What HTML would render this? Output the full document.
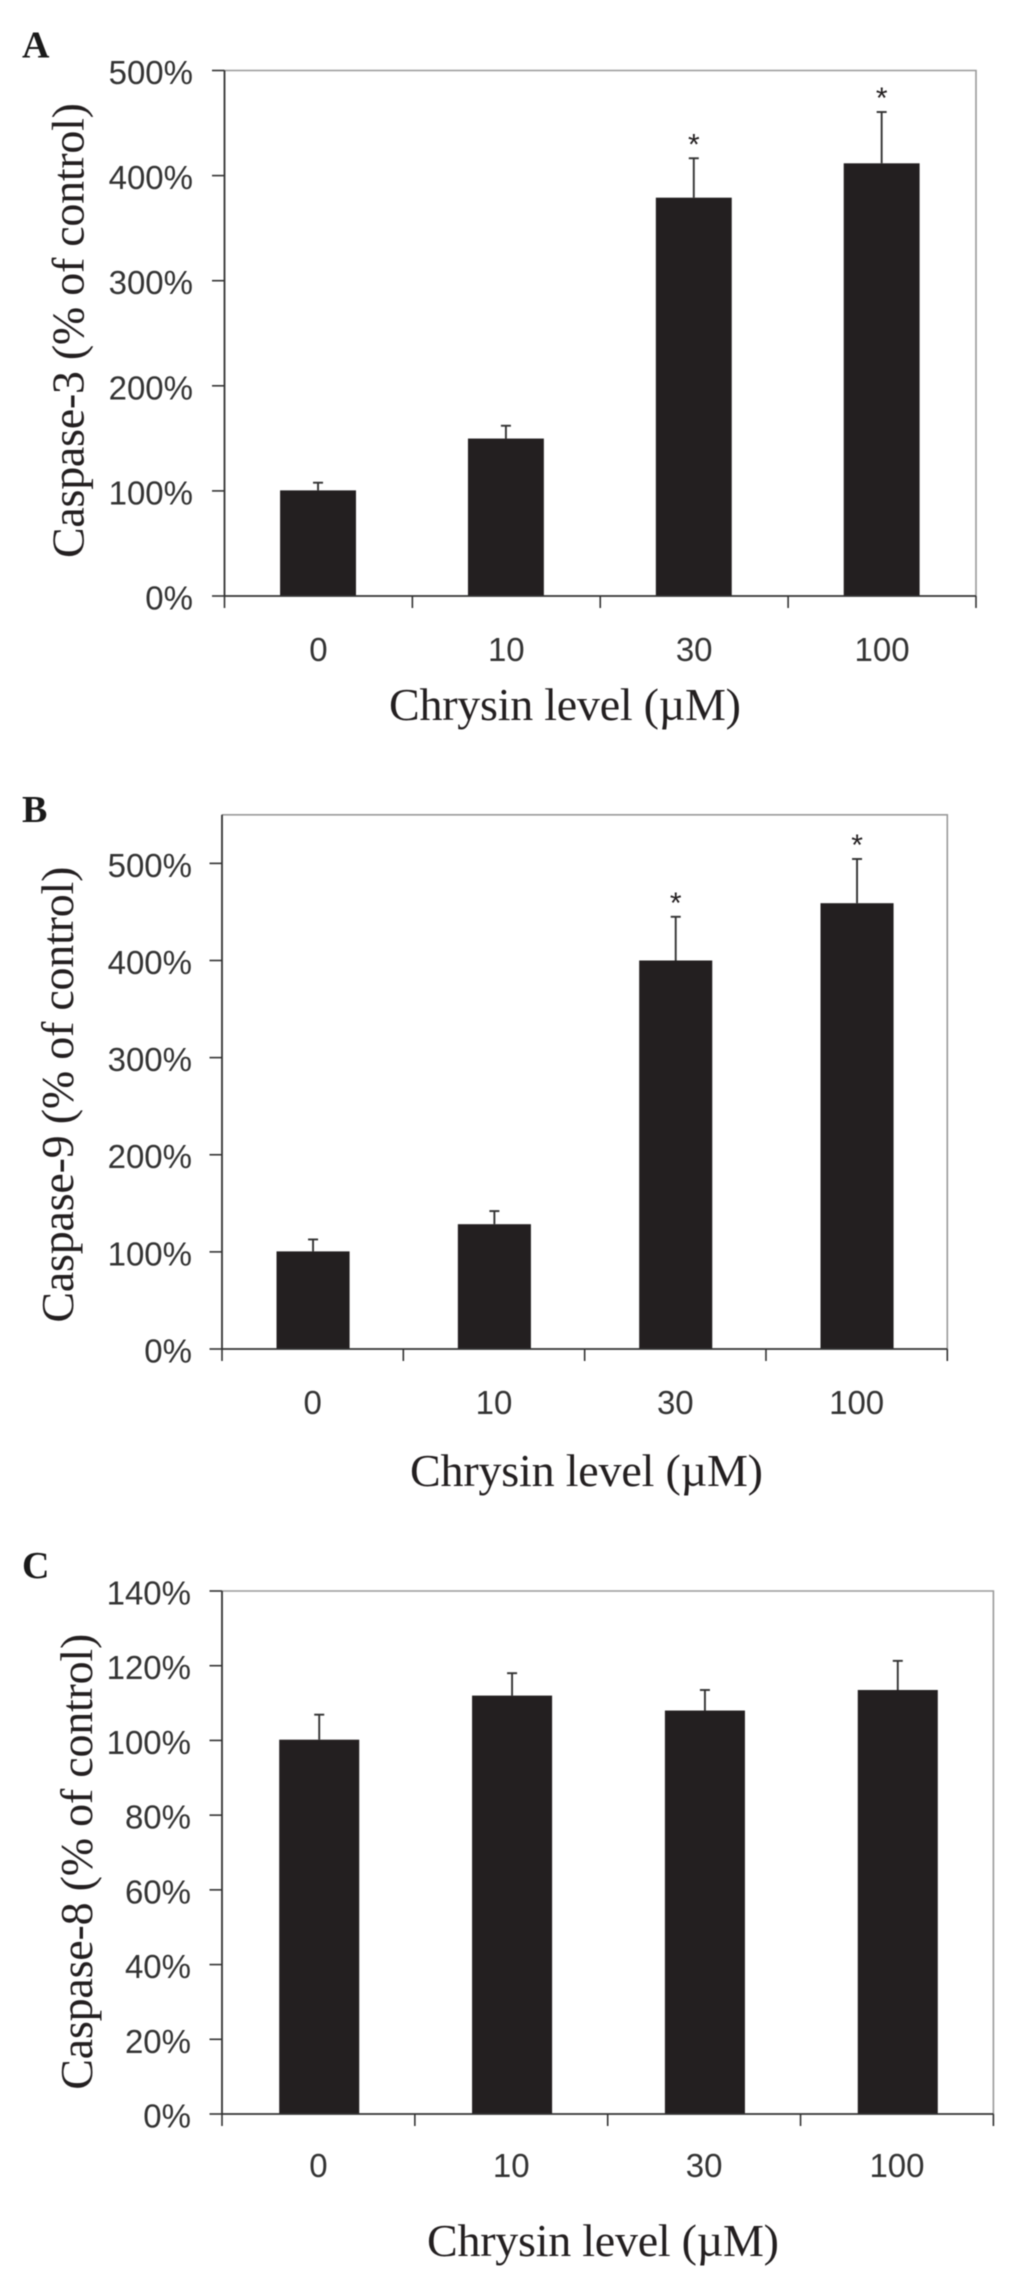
<!DOCTYPE html>
<html lang="en">
<head>
<meta charset="utf-8">
<title>Caspase activity vs chrysin level</title>
<style>
html,body{margin:0;padding:0;background:#fff;width:1033px;height:2275px;overflow:hidden}
svg{display:block}
.tick{font-family:"Liberation Sans",sans-serif;font-size:33px;fill:#333}
.title{font-family:"Liberation Serif",serif;font-size:46px;fill:#231f20}
.letter{font-family:"Liberation Serif",serif;font-size:38px;font-weight:bold;fill:#1a1a1a}
.star{font-family:"Liberation Sans",sans-serif;font-size:30px;fill:#231f20}
.soft{filter:blur(.45px)}
</style>
</head>
<body>
<svg id="fig" xmlns="http://www.w3.org/2000/svg" width="1033" height="2275" viewBox="0 0 1033 2275">
  <rect width="1033" height="2275" fill="#fff"/>

  <g id="panel-a" class="soft">
    <text class="letter" x="22" y="57.5">A</text>
    <text class="title" transform="rotate(-90 83.5 558)" x="83.5" y="558" textLength="455" lengthAdjust="spacing">Caspase-3 (% of control)</text>
    <text class="title" x="389" y="720" textLength="352" lengthAdjust="spacing">Chrysin level (µM)</text>
  </g>

  <g id="panel-b" class="soft">
    <text class="letter" x="22" y="822">B</text>
    <text class="title" transform="rotate(-90 73 1322.6)" x="73" y="1322.6" textLength="456" lengthAdjust="spacing">Caspase-9 (% of control)</text>
    <text class="title" x="410" y="1486" textLength="353" lengthAdjust="spacing">Chrysin level (µM)</text>
  </g>

  <g id="panel-c" class="soft">
    <text class="letter" x="22" y="1578">C</text>
    <text class="title" transform="rotate(-90 92 2089.7)" x="92" y="2089.7" textLength="456" lengthAdjust="spacing">Caspase-8 (% of control)</text>
    <text class="title" x="427" y="2256" textLength="352" lengthAdjust="spacing">Chrysin level (µM)</text>
  </g>
</svg>

<script>
const categories = ['0', '10', '30', '100'];

const caspase3Values = [100.5, 149.8, 379, 411.7];
const caspase3ErrorTops = [107.8, 162, 416.5, 460.5];
const caspase3Stars = [false, false, true, true];
const caspase3Ticks = [0, 100, 200, 300, 400, 500];
const caspase3Max = 500;

const caspase9Values = [100.5, 128.5, 400, 459];
const caspase9ErrorTops = [112.8, 142, 445, 504.5];
const caspase9Stars = [false, false, true, true];
const caspase9Ticks = [0, 100, 200, 300, 400, 500];
const caspase9Max = 550;

const caspase8Values = [100.2, 112, 108, 113.5];
const caspase8ErrorTops = [106.9, 118, 113.5, 121.3];
const caspase8Stars = [false, false, false, false];
const caspase8Ticks = [0, 20, 40, 60, 80, 100, 120, 140];
const caspase8Max = 140;

const SVG_NS = 'http://www.w3.org/2000/svg';
const AXIS = '#333';
const FRAME = '#9a9a9a';
const BAR = '#231f20';

function make(parent, tag, attrs, text) {
  const node = document.createElementNS(SVG_NS, tag);
  for (const key in attrs) node.setAttribute(key, attrs[key]);
  if (text !== undefined) node.textContent = text;
  parent.appendChild(node);
  return node;
}

function drawPanel(root, box, labelRight, xLabelBase, barFrac, barShift, cats, values, errorTops, stars, ticks, max) {
  const band = (box.right - box.left) / cats.length;
  const xCenter = function (i) { return box.left + (i + 0.5) * band; };
  const xEdge = function (i) { return box.left + i * band; };
  const yPos = function (v) { return box.bottom - (v / max) * (box.bottom - box.top); };
  const barW = band * barFrac;

  const frame = make(root, 'path', {
    d: 'M' + box.left + ' ' + box.top + 'H' + box.right + 'V' + box.bottom,
    fill: 'none', stroke: FRAME, 'stroke-width': 1.6
  });
  
  

  ticks.forEach(function (t) {
    const y = yPos(t);
    const tk = make(root, 'line', { x1: box.left - 12.5, x2: box.left, y1: y, y2: y, stroke: AXIS, 'stroke-width': 1.6 });
    
    
    const lb = make(root, 'text', { class: 'tick', x: labelRight, y: y + 13.5, 'text-anchor': 'end' }, t + '%');
    
    
  });

  cats.forEach(function (c, i) {
    const cx = xCenter(i) + barShift;
    const y = yPos(values[i]);
    const b = make(root, 'rect', { x: cx - barW / 2, y: y, width: barW, height: box.bottom - y, fill: BAR });
    
    

    const errTop = yPos(errorTops[i]);
    const stem = make(root, 'line', { x1: cx, x2: cx, y1: y, y2: errTop, stroke: AXIS, 'stroke-width': 1.9 });
    
    
    const cap = make(root, 'line', { x1: cx - 5, x2: cx + 5, y1: errTop, y2: errTop, stroke: AXIS, 'stroke-width': 1.9 });
    
    

    if (stars[i]) {
      const st = make(root, 'text', { class: 'star', x: cx, y: errTop - 4, 'text-anchor': 'middle' }, '*');
      
      
    }

    const lb = make(root, 'text', { class: 'tick', x: xCenter(i), y: xLabelBase - 1, 'text-anchor': 'middle' }, c);
    
    
  });

  for (let i = 0; i <= cats.length; i++) {
    const tk = make(root, 'line', { x1: xEdge(i), x2: xEdge(i), y1: box.bottom, y2: box.bottom + 12, stroke: AXIS, 'stroke-width': 1.6 });
    
    
  }

  const yAxis = make(root, 'line', { x1: box.left, x2: box.left, y1: box.top, y2: box.bottom, stroke: AXIS, 'stroke-width': 1.8 });
  
  
  const xAxis = make(root, 'line', { x1: box.left, x2: box.right, y1: box.bottom, y2: box.bottom, stroke: AXIS, 'stroke-width': 1.8 });
  
  
}

drawPanel(document.getElementById('panel-a'),
  { left: 224.5, right: 976, top: 70.5, bottom: 596 }, 193, 662, 0.404, -0.4,
  categories, caspase3Values, caspase3ErrorTops, caspase3Stars, caspase3Ticks, caspase3Max);

drawPanel(document.getElementById('panel-b'),
  { left: 222, right: 947.3, top: 814.8, bottom: 1349 }, 192, 1415, 0.403, 0.4,
  categories, caspase9Values, caspase9ErrorTops, caspase9Stars, caspase9Ticks, caspase9Max);

drawPanel(document.getElementById('panel-c'),
  { left: 222, right: 993.4, top: 1591, bottom: 2114 }, 191, 2178, 0.415, 0.8,
  categories, caspase8Values, caspase8ErrorTops, caspase8Stars, caspase8Ticks, caspase8Max);
</script>
</body>
</html>
